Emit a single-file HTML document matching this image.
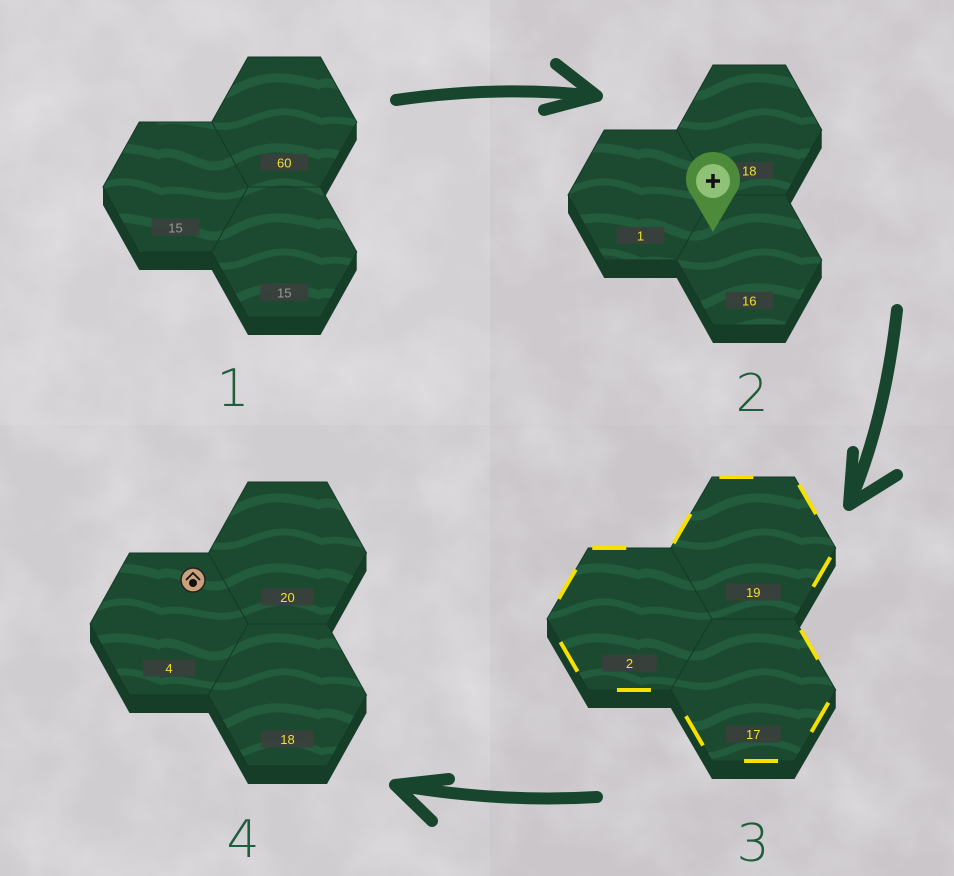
<!DOCTYPE html>
<html><head><meta charset="utf-8"><style>
html,body{margin:0;padding:0;width:954px;height:876px;overflow:hidden;background:#cfcbcf}
svg{display:block}
.num{font-family:"DejaVu Sans ExtraLight","DejaVu Sans","Liberation Sans",sans-serif;font-weight:200;font-size:52px;fill:#1f5e3c;text-anchor:middle}
.lbl{font-family:"Liberation Sans",sans-serif;font-size:13px;text-anchor:middle}
</style></head><body>
<svg id="s" width="954" height="876" viewBox="0 0 954 876" xmlns="http://www.w3.org/2000/svg">
<defs>
<filter id="cloud" x="0" y="0" width="100%" height="100%">
<feTurbulence type="fractalNoise" baseFrequency="0.012" numOctaves="4" seed="3"/>
<feColorMatrix type="matrix" values="0 0 0 0 0.8  0 0 0 0 0.79  0 0 0 0 0.8  0 0 0 1.1 -0.4"/>
</filter>
<pattern id="tex" patternUnits="userSpaceOnUse" width="160" height="70">
<rect width="160" height="70" fill="#1b4a31"/>
<path d="M-10 18 C20 0 40 38 70 22 S120 2 170 18" stroke="#235c3d" stroke-width="9" fill="none"/>
<path d="M-10 55 C25 40 50 66 85 52 S130 38 170 55" stroke="#235c3d" stroke-width="7" fill="none"/>
</pattern>
</defs>
<rect x="0" y="0" width="490" height="425" fill="#d4d1d4"/>
<rect x="490" y="0" width="464" height="425" fill="#cdc9cd"/>
<rect x="490" y="425" width="464" height="451" fill="#cac6ca"/>
<rect x="0" y="425" width="490" height="451" fill="#d0cdd0"/>
<rect width="954" height="876" filter="url(#cloud)"/>
<g id="hexes"></g>
<g id="over"></g>
<g fill="none" stroke="#17452d" stroke-width="12" stroke-linecap="round" stroke-linejoin="round">
<path d="M396 100 Q500 85 597 96 M556 64 L597 96 L544 110"/>
<path d="M897 310 Q885 420 849 505 M853 452 L849 505 L897 475"/>
<path d="M597 797 Q500 803 395 785 M449 779 L395 785 L432 821"/>
</g>
<text class="num" x="233" y="406">1</text>
<text class="num" x="752" y="411">2</text>
<text class="num" x="753" y="861">3</text>
<text class="num" x="243" y="857">4</text>
</svg>
<script>
const NS='http://www.w3.org/2000/svg';
const clusters=[
 {x:103,y:122,W:145,H:130,D:18,labels:['15','60','15'],col:['#9a9a9a','#f0e030','#9a9a9a'],name:'panel-1'},
 {x:568,y:130,W:145,H:130,D:18,labels:['1','18','16'],col:['#f0e030','#f0e030','#f0e030'],name:'panel-2'},
 {x:547,y:548,W:165,H:142,D:18,labels:['2','19','17'],col:['#f0e030','#f0e030','#f0e030'],name:'panel-3',dash:true},
 {x:90,y:553,W:158,H:142,D:18,labels:['4','20','18'],col:['#f0e030','#f0e030','#f0e030'],name:'panel-4'}
];
const g=document.getElementById('hexes');
function mk(t,a,p){const e=document.createElementNS(NS,t);for(const k in a)e.setAttribute(k,a[k]);(p||g).appendChild(e);return e;}
function hex(x,y,W,H,D,lab,col,nm){
 const q=W/4;
 const grp=mk('g',{});
 
 
 const side=mk('polygon',{points:`${x},${y+H/2} ${x+q},${y+H} ${x+3*q},${y+H} ${x+W},${y+H/2} ${x+W},${y+H/2+D} ${x+3*q},${y+H+D} ${x+q},${y+H+D} ${x},${y+H/2+D}`,fill:'#153d28'},grp);
 
 
 const top=mk('polygon',{points:`${x+q},${y} ${x+3*q},${y} ${x+W},${y+H/2} ${x+3*q},${y+H} ${x+q},${y+H} ${x},${y+H/2}`,fill:'url(#tex)',stroke:'#143a26','stroke-width':1},grp);
 
 
 const cx=x+W/2,cy=y+H*0.81;
 const bw=W*0.33,bh=17;
 const box=mk('rect',{x:cx-bw/2,y:cy-bh/2,width:bw,height:bh,fill:'#3b3f3c',opacity:0.9},grp);
 
 
 const t=mk('text',{x:cx,y:cy+5,class:'lbl',fill:col},grp);
 t.textContent=lab;
 
 
}
clusters.forEach(c=>{
 const q=c.W/4;
 const L=[c.x,c.y],TR=[c.x+3*q,c.y-c.H/2],BR=[c.x+3*q,c.y+c.H/2];
 hex(TR[0],TR[1],c.W,c.H,c.D,c.labels[1],c.col[1],c.name+'-hex-top-right');
 hex(L[0],L[1],c.W,c.H,c.D,c.labels[0],c.col[0],c.name+'-hex-left');
 hex(BR[0],BR[1],c.W,c.H,c.D,c.labels[2],c.col[2],c.name+'-hex-bottom-right');
 if(c.dash){
  const x=c.x,y=c.y,H=c.H;
  const pts=[[x+q,y],[x+3*q,y],[x+4*q,y-H/2],[x+6*q,y-H/2],[x+7*q,y],[x+6*q,y+H/2],[x+7*q,y+H],[x+6*q,y+1.5*H],[x+4*q,y+1.5*H],[x+3*q,y+H],[x+q,y+H],[x,y+H/2]];
  const d=mk('polygon',{points:pts.map(p=>p.join(',')).join(' '),fill:'none',stroke:'#f5e000','stroke-width':4,'stroke-dasharray':'34 50','stroke-dashoffset':'-4'});
  
  
 }
});
const o=document.getElementById('over');
const pin=mk('path',{d:'M713 232 L692 196 A27 27 0 1 1 734 196 Z',fill:'#4d8a3a'},o);


mk('circle',{cx:713,cy:181,r:17,fill:'#8fc276'},o);
mk('path',{d:'M706 181 H720 M713 174 V188',stroke:'#111','stroke-width':3.5},o);
const ic=mk('circle',{cx:193,cy:580,r:12,fill:'#c9a27c',stroke:'#222','stroke-width':1.5},o);


mk('path',{d:'M186 580 L193 573 L200 580',fill:'none',stroke:'#111','stroke-width':1.8},o);
mk('circle',{cx:193,cy:583,r:4,fill:'#111'},o);
</script>
</body></html>
